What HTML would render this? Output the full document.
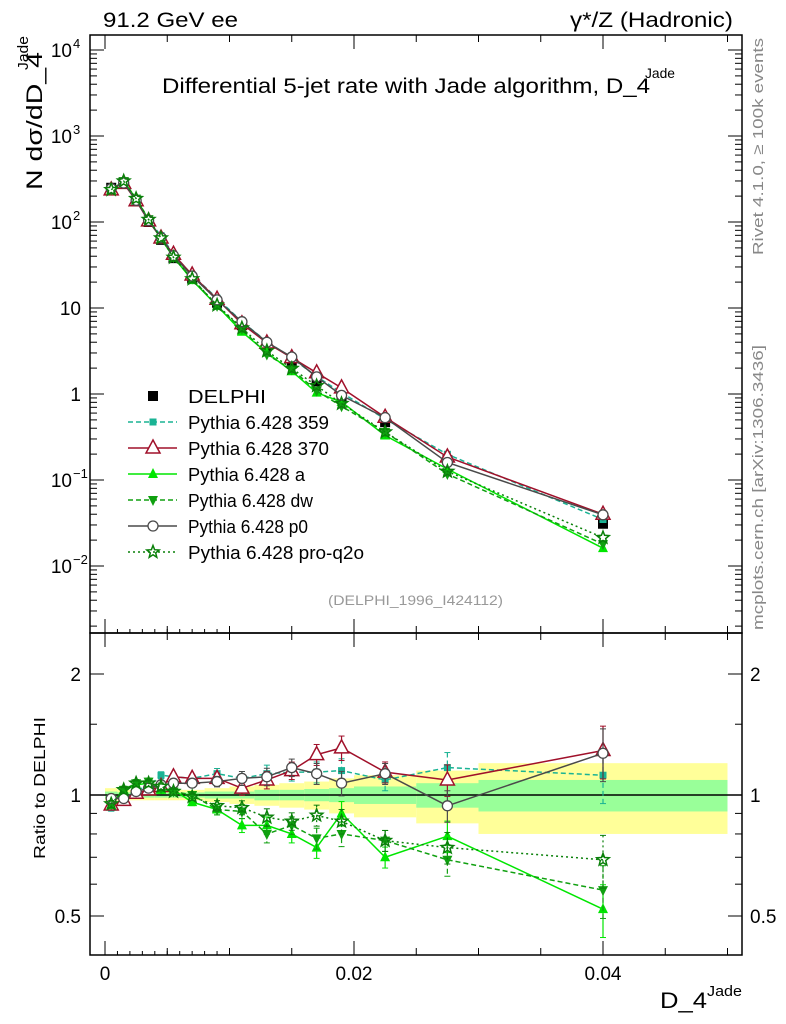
<!DOCTYPE html>
<html><head><meta charset="utf-8">
<style>
body{margin:0;background:#fff;}
svg{display:block;font-family:"Liberation Sans",sans-serif;}
</style></head><body>
<svg id="c" width="786" height="1024" xmlns="http://www.w3.org/2000/svg"></svg>
<script>
const xCenters=[0.0005,0.0015,0.0025,0.0035,0.0045,0.0055,0.007,0.009,0.011,0.013,0.015,0.017,0.019,0.0225,0.0275,0.04];
const binEdges=[0,0.001,0.002,0.003,0.004,0.005,0.006,0.008,0.010,0.012,0.014,0.016,0.018,0.020,0.025,0.030,0.050];
const delphi=[250,290,175,100,62,38,22,11.5,6.3,3.6,2.3,1.4,0.9,0.47,0.17,0.031];
const bandTot=[0.04,0.03,0.03,0.03,0.03,0.03,0.03,0.04,0.05,0.06,0.07,0.08,0.10,0.12,0.15,0.20];
const bandStat=[0.02,0.015,0.015,0.015,0.015,0.015,0.015,0.02,0.02,0.03,0.03,0.035,0.04,0.05,0.07,0.09];
const r359=[0.93,0.98,1.03,1.05,1.12,1.11,1.10,1.13,1.10,1.13,1.14,1.14,1.15,1.09,1.17,1.12];
const r370=[0.944,0.97,1.01,1.03,1.05,1.11,1.10,1.10,1.04,1.09,1.15,1.26,1.31,1.14,1.09,1.29];
const rA=[0.944,1.03,1.06,1.07,1.03,1.03,0.96,0.92,0.84,0.84,0.80,0.74,0.90,0.70,0.79,0.52];
const rDw=[0.95,1.03,1.07,1.08,1.04,1.02,1.0,0.92,0.91,0.80,0.84,0.78,0.80,0.77,0.69,0.58];
const rP0=[0.98,0.98,1.02,1.04,1.06,1.07,1.07,1.08,1.10,1.11,1.17,1.13,1.07,1.13,0.94,1.27];
const rQ2o=[0.95,1.03,1.07,1.07,1.05,1.02,0.99,0.94,0.93,0.88,0.86,0.89,0.86,0.77,0.74,0.69];
const mcErr=[0.02,0.02,0.02,0.02,0.02,0.02,0.02,0.03,0.04,0.05,0.05,0.06,0.07,0.06,0.09,0.15];
const xTicks=[0,0.02,0.04];
const xTickLabels=["0","0.02","0.04"];

const S=document.getElementById('c');const NS='http://www.w3.org/2000/svg';
function mk(t,a,p){const e=document.createElementNS(NS,t);for(const k in a)e.setAttribute(k,a[k]);(p||S).appendChild(e);return e;}
const L=90,R=742,T=35,M=633,B=955;
const X=v=>105+v*12450;
const Y=v=>394-86*Math.log10(v);
const YR=r=>795-121*Math.log2(r);
let f1=mk('rect',{x:L,y:T,width:R-L,height:M-T,fill:'none',stroke:'#000','stroke-width':1.5});

let f2=mk('rect',{x:L,y:M,width:R-L,height:B-M,fill:'none',stroke:'#000','stroke-width':1.5});

for(let i=0;i<bandTot.length;i++){
 const x0=X(binEdges[i]),x1=X(binEdges[i+1]);
 let y=mk('rect',{x:x0,y:YR(1+bandTot[i]),width:x1-x0,height:YR(1-bandTot[i])-YR(1+bandTot[i]),fill:'#ffff99'});
 
 let g=mk('rect',{x:x0,y:YR(1+bandStat[i]),width:x1-x0,height:YR(1-bandStat[i])-YR(1+bandStat[i]),fill:'#99ff99'});
 
}
mk('line',{x1:L,x2:R,y1:795,y2:795,stroke:'#000','stroke-width':1.5});
function tk(x1,y1,x2,y2){mk('line',{x1,y1,x2,y2,stroke:'#000','stroke-width':1});}
for(let e=-3;e<=4;e++)for(let m=1;m<10;m++){const v=m*Math.pow(10,e);const y=Y(v);if(y<T||y>M)continue;const l=m==1?14:7;tk(L,y,L+l,y);tk(R,y,R-l,y);}
[0.5,0.6,0.7,0.8,0.9,1,1.5,2].forEach(r=>{const y=YR(r);const l=(r==0.5||r==1||r==2)?14:7;tk(L,y,L+l,y);tk(R,y,R-l,y);});
for(let i=0;i<=10;i++){const v=i*0.005;const x=X(v);const l=i%4==0?14:7;tk(x,B,x,B-l);tk(x,M,x,M-l);tk(x,M,x,M+l);tk(x,T,x,T+l);}
for(let i=0;i<10;i++){const x=X(i*0.001);tk(x,B,x,B-4);tk(x,M,x,M-4);}
xTicks.forEach((v,i)=>{let t=mk('text',{x:X(v),y:980,'font-size':19,'text-anchor':'middle'});t.textContent=xTickLabels[i];});
const ylab=[[4,'10','4'],[3,'10','3'],[2,'10','2'],[1,'10',''],[0,'1',''],[-1,'10','−1'],[-2,'10','−2']];
ylab.forEach(a=>{const y=Y(Math.pow(10,a[0]))+7;let t=mk('text',{x:a[2]?72:81,y,'font-size':19,'text-anchor':'end'});t.textContent=a[1];if(a[2]){let s=mk('text',{x:73,y:y-9,'font-size':13});s.textContent=a[2];}});
[[2,'2'],[1,'1'],[0.5,'0.5']].forEach(a=>{let t=mk('text',{x:81,y:YR(a[0])+7,'font-size':19,'text-anchor':'end'});t.textContent=a[1];
 let t2=mk('text',{x:750,y:YR(a[0])+7,'font-size':19});t2.textContent=a[1];});
function marker(k,x,y,c,g){
 if(k=='sq')return mk('rect',{x:x-5,y:y-5,width:10,height:10,fill:c},g);
 if(k=='ssq')return mk('rect',{x:x-3.5,y:y-3.5,width:7,height:7,fill:c},g);
 if(k=='tri')return mk('polygon',{points:`${x},${y-8} ${x-7},${y+5} ${x+7},${y+5}`,fill:'#fff',stroke:c,'stroke-width':1.5},g);
 if(k=='ftri')return mk('polygon',{points:`${x},${y-6} ${x-5},${y+4} ${x+5},${y+4}`,fill:c},g);
 if(k=='dtri')return mk('polygon',{points:`${x},${y+6} ${x-5},${y-4} ${x+5},${y-4}`,fill:c},g);
 if(k=='circ')return mk('circle',{cx:x,cy:y,r:5,fill:'#fff',stroke:c,'stroke-width':1.3},g);
 if(k=='star'){let p=[];for(let i=0;i<10;i++){const a=-Math.PI/2+i*Math.PI/5,r=i%2?2.8:6.5;p.push((x+r*Math.cos(a)).toFixed(1)+','+(y+r*Math.sin(a)).toFixed(1));}return mk('polygon',{points:p.join(' '),fill:'none',stroke:c,'stroke-width':1.5},g);}
}
const dg=mk('g',{});
xCenters.forEach((x,i)=>marker('sq',X(x),Y(delphi[i]),'#000',dg));
const series=[
 {n:'pythia-359',r:r359,c:'#1ab394',k:'ssq',d:'5,3'},
 {n:'pythia-370',r:r370,c:'#a0102a',k:'tri',d:''},
 {n:'pythia-a',r:rA,c:'#00e600',k:'ftri',d:''},
 {n:'pythia-dw',r:rDw,c:'#10a010',k:'dtri',d:'5,3'},
 {n:'pythia-p0',r:rP0,c:'#4a4a4a',k:'circ',d:''},
 {n:'pythia-pro-q2o',r:rQ2o,c:'#0a800a',k:'star',d:'2,3'}];
series.forEach(s=>{
 ['main','ratio'].forEach(p=>{
  const g=mk('g',{});
  const yf=i=>p=='main'?Y(delphi[i]*s.r[i]):YR(s.r[i]);
  mk('polyline',{points:xCenters.map((x,i)=>X(x)+','+yf(i)).join(' '),fill:'none',stroke:s.c,'stroke-width':1.5,'stroke-dasharray':s.d},g);
  xCenters.forEach((x,i)=>{
   if(p=='ratio'){const e=mcErr[i];const y1=YR(s.r[i]*(1+e)),y2=YR(s.r[i]*(1-e));mk('line',{x1:X(x),x2:X(x),y1,y2,stroke:s.c,'stroke-width':1.2,'stroke-dasharray':s.d},g);mk('line',{x1:X(x)-3,x2:X(x)+3,y1,y2:y1,stroke:s.c},g);mk('line',{x1:X(x)-3,x2:X(x)+3,y1:y2,y2,stroke:s.c},g);}
   marker(s.k,X(x),yf(i),s.c,g);
  });
 });
});
const leg=[['DELPHI','#000','sq',''],['Pythia 6.428 359','#1ab394','ssq','5,3'],['Pythia 6.428 370','#a0102a','tri',''],['Pythia 6.428 a','#00e600','ftri',''],['Pythia 6.428 dw','#10a010','dtri','5,3'],['Pythia 6.428 p0','#4a4a4a','circ',''],['Pythia 6.428 pro-q2o','#0a800a','star','2,3']];
const legW=[78,141,141,117,125,120,176];
leg.forEach((a,i)=>{const y=396+i*26;const g=mk('g',{});
 if(i>0)mk('line',{x1:128,x2:177,y1:y,y2:y,stroke:a[1],'stroke-width':1.5,'stroke-dasharray':a[3]},g);
 marker(a[2],153,y,a[1],g);
 let t=mk('text',{x:188,y:y+7,'font-size':18,textLength:legW[i],lengthAdjust:'spacingAndGlyphs'},g);t.textContent=a[0];});
function tx(s,a,n){let t=mk('text',Object.assign({lengthAdjust:'spacingAndGlyphs'},a));t.textContent=s;return t;}
tx('91.2 GeV ee',{x:103,y:27,'font-size':21,textLength:135},'energy-label');
tx('γ*/Z (Hadronic)',{x:570,y:27,'font-size':21,textLength:163},'process-label');
tx('Differential 5-jet rate with Jade algorithm, D_4',{x:162,y:93,'font-size':21,textLength:488},'chart-title');
tx('Jade',{x:645,y:78,'font-size':14,textLength:30},'chart-title-sup');
tx('(DELPHI_1996_I424112)',{x:328,y:605,'font-size':14,fill:'#999',textLength:175},'analysis-id');
tx('D_4',{x:660,y:1008,'font-size':22,textLength:47},'x-axis-title');
tx('Jade',{x:707,y:996,'font-size':15,textLength:35},'x-axis-title-sup');
tx('N  dσ/dD_4',{x:0,y:0,'font-size':22,textLength:138,transform:'translate(42,190) rotate(-90)'},'y-axis-title');
tx('Jade',{x:0,y:0,'font-size':15,textLength:34,transform:'translate(28,70) rotate(-90)'},'y-axis-title-sup');
tx('Ratio to DELPHI',{x:0,y:0,'font-size':16,textLength:142,transform:'translate(45,859) rotate(-90)'},'ratio-axis-title');
tx('Rivet 4.1.0, ≥ 100k events',{x:0,y:0,'font-size':15,fill:'#888',textLength:217,transform:'translate(763,255) rotate(-90)'},'rivet-label');
tx('mcplots.cern.ch [arXiv:1306.3436]',{x:0,y:0,'font-size':15,fill:'#888',textLength:285,transform:'translate(763,630) rotate(-90)'},'mcplots-label');
</script>
</body></html>
